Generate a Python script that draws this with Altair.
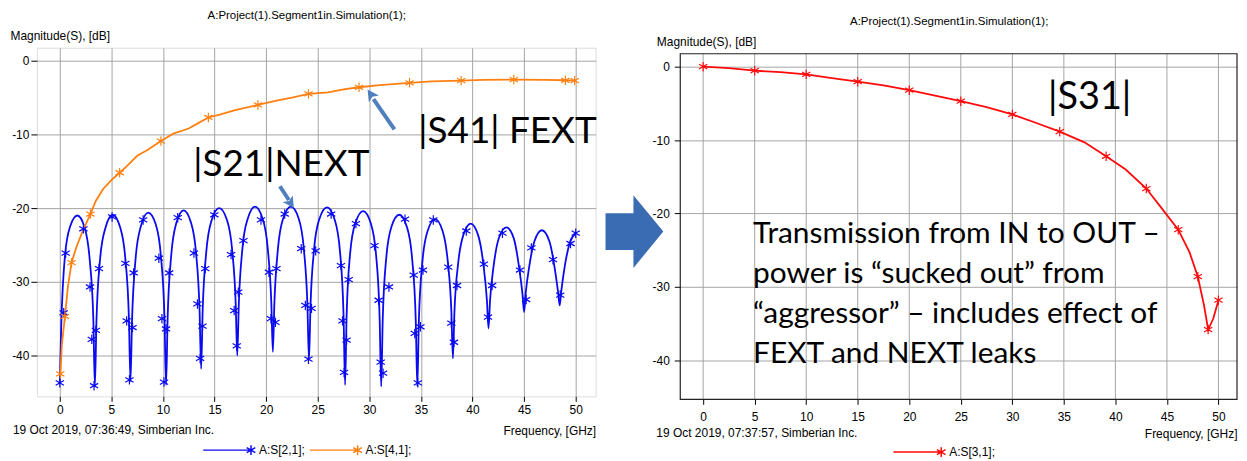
import altair as alt
import pandas as pd

# ---------------- data ----------------
X_TICKS = [0, 5, 10, 15, 20, 25, 30, 35, 40, 45, 50]
Y_TICKS = [0, -10, -20, -30, -40]

# |S21| NEXT (blue) line
S21_F = [0.0, 0.15, 0.5, 1.0, 1.7, 2.4, 2.9, 3.25, 3.4,
         3.55, 3.9, 4.4, 5.12, 5.85, 6.35, 6.7, 6.85,
         7.0, 7.35, 7.85, 8.57, 9.3, 9.8, 10.15, 10.3,
         10.45, 10.8, 11.3, 12.0, 12.7, 13.2, 13.55, 13.7,
         13.85, 14.2, 14.7, 15.45, 16.2, 16.7, 17.05, 17.2,
         17.35, 17.7, 18.2, 18.92, 19.65, 20.15, 20.5, 20.65,
         20.8, 21.15, 21.65, 22.4, 23.15, 23.65, 24.0, 24.15,
         24.3, 24.65, 25.15, 25.9, 26.65, 27.15, 27.5, 27.65,
         27.8, 28.15, 28.65, 29.4, 30.15, 30.65, 31.0, 31.15,
         31.3, 31.65, 32.15, 32.9, 33.65, 34.15, 34.5, 34.65,
         34.8, 35.15, 35.65, 36.37, 37.1, 37.6, 37.95, 38.1,
         38.25, 38.6, 39.1, 39.82, 40.55, 41.05, 41.4, 41.55,
         41.7, 42.05, 42.55, 43.27, 44.0, 44.5, 44.85, 45.0,
         45.15, 45.5, 46.0, 46.72, 47.45, 47.95, 48.3, 48.45,
         48.6, 48.95, 49.45, 50.0]
S21_DB = [-43.7, -35.5, -26.5, -22.5, -21.0, -22.6, -27.0, -35.0, -44.2,
          -35.5, -27.0, -22.8, -20.9, -22.6, -26.8, -35.0, -43.5,
          -35.3, -26.8, -22.5, -20.6, -22.2, -26.5, -35.0, -44.0,
          -35.0, -26.4, -22.0, -20.3, -21.9, -26.0, -34.0, -41.8,
          -33.8, -25.9, -21.7, -20.0, -21.6, -25.6, -33.0, -40.0,
          -33.0, -25.5, -21.5, -19.8, -21.4, -25.4, -32.8, -39.5,
          -32.8, -25.4, -21.4, -19.8, -21.4, -25.5, -33.2, -40.6,
          -33.2, -25.5, -21.5, -19.9, -21.6, -25.8, -34.5, -44.0,
          -34.5, -26.0, -22.0, -20.4, -22.1, -26.3, -35.0, -44.2,
          -35.0, -26.6, -22.5, -20.9, -22.6, -26.9, -35.3, -44.2,
          -35.3, -27.2, -23.1, -21.5, -23.1, -27.2, -34.0, -40.4,
          -34.0, -27.6, -23.7, -22.1, -23.7, -27.6, -32.6, -36.3,
          -32.5, -27.8, -24.1, -22.6, -24.1, -27.9, -31.8, -34.1,
          -31.6, -27.9, -24.5, -23.0, -24.5, -28.0, -31.5, -33.2,
          -31.3, -27.8, -24.6, -23.4]
# |S21| markers
S21_MF = [0.0, 0.38, 0.57, 2.29, 2.93, 3.1, 3.32, 3.5, 3.8, 5.07,
          6.36, 6.48, 6.75, 7.05, 7.16, 8.08, 9.6, 9.9, 10.1, 10.3,
          10.6, 11.43, 13.0, 13.34, 13.6, 13.83, 14.1, 14.98, 16.6, 16.9,
          17.15, 17.3, 17.8, 19.5, 20.27, 20.46, 20.9, 21.0, 21.8, 23.4,
          23.8, 24.1, 24.4, 24.8, 26.3, 27.25, 27.4, 27.55, 27.8, 28.0,
          28.7, 30.5, 30.9, 31.1, 31.33, 31.9, 33.46, 34.3, 34.4, 34.7,
          34.95, 35.2, 36.2, 37.65, 37.95, 38.2, 38.5, 39.4, 41.1, 41.5,
          41.9, 42.9, 44.6, 45.2, 45.7, 47.8, 48.5, 49.5, 50.0]
S21_MDB = [-43.7, -34.2, -26.1, -22.8, -30.7, -37.8, -44.1, -36.6, -28.2, -21.2,
           -27.5, -35.3, -43.3, -36.2, -28.8, -21.6, -26.8, -35.0, -43.6, -36.4,
           -28.8, -21.3, -26.1, -33.0, -40.4, -36.0, -28.2, -20.9, -26.3, -33.9,
           -38.7, -31.4, -24.4, -21.6, -28.7, -35.0, -35.5, -28.2, -20.8, -25.5,
           -33.2, -40.5, -33.6, -25.8, -20.8, -27.8, -35.3, -42.3, -37.9, -29.7,
           -22.1, -25.1, -32.5, -40.9, -42.4, -30.7, -21.5, -29.1, -37.0, -43.7,
           -36.1, -28.4, -21.6, -28.0, -35.6, -38.2, -30.5, -23.1, -27.6, -34.8,
           -30.5, -23.4, -28.4, -32.4, -25.4, -27.0, -31.8, -24.8, -23.4]

# |S41| FEXT (orange)
S41_F = [0.05, 0.2, 0.5, 0.8, 1.14, 1.6, 2.2, 2.97, 3.5, 4.2, 5.0, 5.8, 6.5,
         7.5, 8.5, 9.8, 11.0, 12.5, 13.5, 14.4, 15.5, 17.0, 19.2, 21.0, 22.5,
         24.1, 26.0, 27.5, 29.0, 31.0, 33.9, 36.0, 38.9, 41.0, 44.0, 47.0,
         49.0, 50.0]
S41_DB = [-42.8, -38.5, -34.7, -30.5, -27.4, -25.3, -23.2, -20.8, -19.0, -17.4,
          -16.2, -15.2, -14.3, -12.9, -12.1, -10.9, -9.9, -9.2, -8.4, -7.7, -7.3,
          -6.7, -6.0, -5.4, -5.0, -4.5, -4.3, -3.9, -3.6, -3.3, -3.0, -2.8, -2.7,
          -2.6, -2.55, -2.6, -2.65, -2.7]
S41_MF = [0.05, 0.5, 1.14, 2.97, 5.8, 9.8, 14.4, 19.2, 24.1, 29.0, 33.9, 38.9,
          44.0, 49.0, 49.9]
S41_MDB = [-42.5, -34.7, -27.4, -20.8, -15.2, -10.9, -7.7, -6.0, -4.5, -3.6,
           -3.0, -2.7, -2.55, -2.65, -2.7]

# |S31| (red)
S31_F = [0, 2.5, 5, 7.5, 10, 12.5, 15, 17.5, 20, 22.5, 25, 27.5, 30, 32, 34.6,
         37, 39.1, 41, 43.0, 44.5, 46.1, 47.2, 48.0, 48.6, 49.0, 49.5, 50.0]
S31_DB = [0, -0.2, -0.55, -0.75, -1.05, -1.55, -2.05, -2.55, -3.2, -3.95, -4.7,
          -5.5, -6.5, -7.5, -8.85, -10.3, -12.2, -14.0, -16.6, -19.3, -22.2,
          -25.3, -28.6, -32.5, -35.8, -34.3, -31.8]
S31_MF = [0, 5, 10, 15, 20, 25, 30, 34.6, 39.1, 43.0, 46.1, 48.0, 49.0, 50.0]
S31_MDB = [0, -0.55, -1.05, -2.05, -3.2, -4.7, -6.5, -8.85, -12.2, -16.6, -22.2,
           -28.6, -35.8, -31.8]

LEFT_SERIES = ["A:S[2,1];", "A:S[4,1];"]
RIGHT_SERIES = ["A:S[3,1];"]
TITLE_TEXT = "A:Project(1).Segment1in.Simulation(1);"
LEFT_DATE = "19 Oct 2019, 07:36:49, Simberian Inc."
RIGHT_DATE = "19 Oct 2019, 07:37:57, Simberian Inc."

# annotations (text, position in data units)
LEFT_NOTE_T = ["|S41| FEXT", "|S21|NEXT"]
LEFT_NOTE_F = [34.75, 12.93]
LEFT_NOTE_DB = [-11.2, -15.7]
RIGHT_NOTE_T = ["|S31|"]
RIGHT_NOTE_F = [33.46]
RIGHT_NOTE_DB = [-5.7]
PARA_T = ["Transmission from IN to OUT \u2013",
          "power is \u201csucked out\u201d from",
          "\u201caggressor\u201d \u2013 includes effect of",
          "FEXT and NEXT leaks"]
PARA_F = [4.84, 4.84, 4.84, 4.84]
PARA_DB = [-24.0, -29.45, -34.9, -40.3]
# pointer arrows: tail -> near head, and head tip with direction
ARROW_F = [32.43, 21.33]
ARROW_DB = [-9.32, -17.03]
ARROW_F2 = [30.4, 22.2]
ARROW_DB2 = [-5.2, -18.9]
HEAD_F = [29.83, 22.68]
HEAD_DB = [-3.92, -20.0]
HEAD_ANGLE = [326, 147]
BLOCK_F = [-6.67]
BLOCK_DB = [-22.46]

# ---------------- styles ----------------
FONT = "Liberation Sans"
NOTE_FONT = "Lato"
C_BLUE = "#0A0AF0"
C_ORANGE = "#FF8010"
C_RED = "#FF0A0A"
C_ARROW = "#4F7FBD"
GRID = "#A4A4A4"
FRAME = "#222222"
ASTER = "M0,-1L0,1M-0.87,-0.5L0.87,0.5M-0.87,0.5L0.87,-0.5"
LEG = "M-9.6,0L-0.3,0" + ASTER
HEAD = "M0,0L-0.7,1.3L0,1.0L0.7,1.3Z"
BLOCK = "M-0.795,-0.507L-0.027,-0.507L-0.027,-1L0.795,0L-0.027,1L-0.027,0.507L-0.795,0.507Z"

LW, LH = 561, 350
RW, RH = 559, 353      # right plot area; its frame starts 6px lower
R_TOP = 6


def axes(width, xpad, ylabpad, xdom, ydom, title_x, title_y, xgrid):
    x = alt.X("f:Q", scale=alt.Scale(domain=xdom, nice=False, zero=False),
              axis=alt.Axis(values=X_TICKS, title="Frequency, [GHz]", titleX=width, titleY=34,
                            titleAlign="right", titleBaseline="middle", titleFont=FONT,
                            titleFontSize=12, titleFontWeight="normal", titleColor="black",
                            labelFont=FONT, labelFontSize=12, labelColor="black",
                            labelPadding=xpad, labelFlush=False, labelOverlap=False,
                            tickSize=5, tickColor="black", domain=False, grid=xgrid,
                            gridColor=GRID, gridWidth=1))
    y = alt.Y("db:Q", scale=alt.Scale(domain=ydom, nice=False, zero=False),
              axis=alt.Axis(values=Y_TICKS, title="Magnitude(S), [dB]", titleAngle=0,
                            titleX=title_x, titleY=title_y, titleAlign="left",
                            titleBaseline="bottom", titleFont=FONT, titleFontSize=12,
                            titleFontWeight="normal", titleColor="black",
                            labelFont=FONT, labelFontSize=12, labelColor="black",
                            labelPadding=ylabpad, labelFlush=False, labelOverlap=False,
                            labelExpr="'' + datum.value",
                            tickSize=6, tickColor="black", domain=False, grid=True,
                            gridColor=GRID, gridWidth=1))
    return x, y


def legend(lx, ly):
    return alt.Legend(title=None, orient="none", legendX=lx, legendY=ly, direction="horizontal",
                      symbolType=LEG, symbolSize=100, symbolStrokeWidth=1.5,
                      labelFont=FONT, labelFontSize=12, labelColor="black", labelOffset=2,
                      columnPadding=1, padding=0)


# ---------------- left chart ----------------
XL, YL = axes(LW, 3, 2, [-2.22, 51.93], [-45.54, 1.76], -27, -5, True)
left_color = alt.Color("s:N", scale=alt.Scale(domain=LEFT_SERIES, range=[C_BLUE, C_ORANGE]),
                       legend=legend(209, 398))

blue_df = pd.DataFrame({"f": S21_F, "db": S21_DB, "s": LEFT_SERIES[0]})
orange_df = pd.DataFrame({"f": S41_F, "db": S41_DB, "s": LEFT_SERIES[1]})
lmark_df = pd.concat([
    pd.DataFrame({"f": S21_MF, "db": S21_MDB, "s": LEFT_SERIES[0]}),
    pd.DataFrame({"f": S41_MF, "db": S41_MDB, "s": LEFT_SERIES[1]}),
])

l_blue = alt.Chart(blue_df).mark_line(strokeWidth=1.8, interpolate="monotone").encode(
    x=XL, y=YL, color=left_color)
l_orange = alt.Chart(orange_df).mark_line(strokeWidth=1.8).encode(x=XL, y=YL, color=left_color)
l_marks = alt.Chart(lmark_df).mark_point(shape=ASTER, filled=False, size=90, strokeWidth=1.2,
                                         opacity=1).encode(x=XL, y=YL, color=left_color)

notes_l = alt.Chart(pd.DataFrame({"f": LEFT_NOTE_F, "db": LEFT_NOTE_DB, "t": LEFT_NOTE_T})).mark_text(
    align="left", baseline="alphabetic", font=NOTE_FONT, fontSize=37, color="black").encode(
    x=XL, y=YL, text="t:N")
arrows = alt.Chart(pd.DataFrame({"f": ARROW_F, "db": ARROW_DB, "f2": ARROW_F2, "db2": ARROW_DB2})
                   ).mark_rule(strokeWidth=4, color=C_ARROW).encode(
    x=XL, y=YL, x2="f2:Q", y2="db2:Q")
heads = alt.Chart(pd.DataFrame({"f": HEAD_F, "db": HEAD_DB, "a": HEAD_ANGLE})).mark_point(
    shape=HEAD, filled=True, size=300, color=C_ARROW, opacity=1).encode(
    x=XL, y=YL, angle=alt.Angle("a:Q", scale=None))
date_l = alt.Chart(pd.DataFrame({"t": [LEFT_DATE]})).mark_text(
    align="left", baseline="middle", font=FONT, fontSize=12, color="black").encode(
    x=alt.value(-24), y=alt.value(LH + 34), text="t:N")

left = alt.layer(l_blue, l_orange, l_marks, arrows, heads, notes_l, date_l).properties(
    width=LW, height=LH,
    title=alt.TitleParams(TITLE_TEXT, font=FONT, fontSize=11.5, fontWeight="normal",
                          color="black", anchor="middle", frame="group", dx=-9.5, offset=8))

# ---------------- right chart ----------------
XR, YR = axes(RW, 7, 5, [-2.22, 51.8], [-45.3, 2.574], -24, 1, False)
right_color = alt.Color("s:N", scale=alt.Scale(domain=RIGHT_SERIES, range=[C_RED]),
                        legend=legend(256, 400))
red_df = pd.DataFrame({"f": S31_F, "db": S31_DB, "s": RIGHT_SERIES[0]})
red_m = pd.DataFrame({"f": S31_MF, "db": S31_MDB, "s": RIGHT_SERIES[0]})

r_grid = alt.Chart(pd.DataFrame({"f": X_TICKS})).mark_rule(color=GRID, strokeWidth=1).encode(
    x=XR, y=alt.value(R_TOP), y2=alt.value(RH))
r_line = alt.Chart(red_df).mark_line(strokeWidth=1.8).encode(x=XR, y=YR, color=right_color)
r_marks = alt.Chart(red_m).mark_point(shape=ASTER, filled=False, size=90, strokeWidth=1.2,
                                      opacity=1).encode(x=XR, y=YR, color=right_color)
block = alt.Chart(pd.DataFrame({"f": BLOCK_F, "db": BLOCK_DB})).mark_point(
    shape=BLOCK, filled=True, size=5329, color="#3A6CB4", opacity=1).encode(x=XR, y=YR)
notes_r = alt.Chart(pd.DataFrame({"f": RIGHT_NOTE_F, "db": RIGHT_NOTE_DB, "t": RIGHT_NOTE_T})).mark_text(
    align="left", baseline="alphabetic", font=NOTE_FONT, fontSize=38, color="black").encode(
    x=XR, y=YR, text="t:N")
para = alt.Chart(pd.DataFrame({"f": PARA_F, "db": PARA_DB, "t": PARA_T})).mark_text(
    align="left", baseline="alphabetic", font=NOTE_FONT, fontSize=30, color="black").encode(
    x=XR, y=YR, text="t:N")
date_r = alt.Chart(pd.DataFrame({"t": [RIGHT_DATE]})).mark_text(
    align="left", baseline="middle", font=FONT, fontSize=12, color="black").encode(
    x=alt.value(-24), y=alt.value(RH + 34), text="t:N")
r_frame = alt.Chart(pd.DataFrame({"k": [0]})).mark_rect(
    filled=False, stroke=FRAME, strokeWidth=1.2).encode(
    x=alt.value(0), x2=alt.value(RW), y=alt.value(R_TOP), y2=alt.value(RH))

right = alt.layer(r_grid, block, r_line, r_marks, notes_r, para, date_r, r_frame).properties(
    width=RW, height=RH, view=alt.ViewBackground(stroke="transparent"),
    title=alt.TitleParams(TITLE_TEXT, font=FONT, fontSize=11.5, fontWeight="normal",
                          color="black", anchor="middle", frame="group", dx=-9.5, offset=8))

chart = alt.concat(left, right, columns=2, spacing=7).properties(
    align="none", bounds="full", padding={"left": 1, "top": 1, "right": 0, "bottom": 0}
).resolve_scale(x="independent", y="independent", color="independent").resolve_legend(
    color="independent").configure_view(stroke=FRAME, strokeWidth=1.2).configure(font=FONT)

chart.save("out.html", embed_options={"renderer": "svg", "actions": False})
